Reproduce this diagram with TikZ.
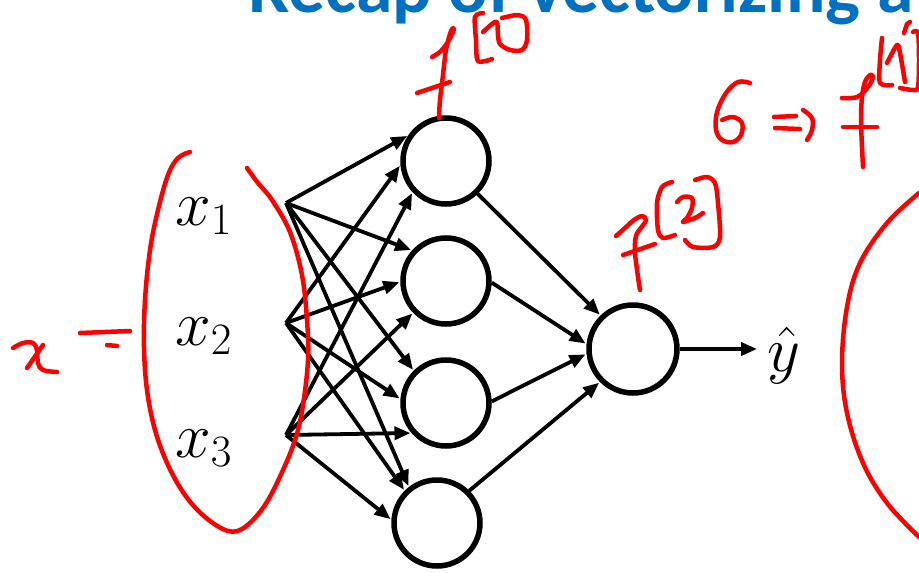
\documentclass[tikz,border=0pt]{standalone}
\usepackage{fix-cm}
\usepackage{fontspec}
\newfontfamily\titlefont{Carlito}
\usetikzlibrary{arrows.meta}
\definecolor{titleblue}{RGB}{0,112,192}
\definecolor{ink}{RGB}{255,0,0}
\tikzset{
  neuron/.style={circle, draw=black, line width=5.5pt, minimum size=86pt, inner sep=0pt},
  wire/.style={line width=3.8pt, -{Triangle[length=16pt,width=13pt]}, shorten >=1pt},
  hand/.style={draw=ink, line width=4.5pt, line cap=round, line join=round},
  varlabel/.style={inner sep=0pt, anchor=base west, font=\fontsize{64}{70}\selectfont}
}
\begin{document}
\begin{tikzpicture}[x=1pt, y=-1pt]
\useasboundingbox (0,0) rectangle (919,573);
\clip (0,0) rectangle (919,573);

% slide title (only its lower part is on the page)
\node[inner sep=0pt, anchor=base west, text=titleblue] (title) at (248,12)
  {\resizebox{665pt}{!}{\titlefont\bfseries Recap of vectorizing a}};

% input labels and their fan-out points
\node[varlabel] (lx1) at (175,225) {$x_1$};
\node[varlabel] (lx2) at (175,345) {$x_2$};
\node[varlabel] (lx3) at (175,457) {$x_3$};
\coordinate (in1) at (286,203);
\coordinate (in2) at (286,323);
\coordinate (in3) at (286,435);

% hidden layer and output unit
\node[neuron] (h1) at (446,161) {};
\node[neuron] (h2) at (446,281) {};
\node[neuron] (h3) at (446,403) {};
\node[neuron] (h4) at (437,523) {};
\node[neuron, minimum size=88pt] (out) at (633,349) {};
\node[varlabel] (yhat) at (767,371) {$\hat{y}$};
\coordinate (yend) at (757,349);

% input -> hidden
\draw[wire] (in1) -- (h1.146);
\draw[wire] (in2) -- (h1.185);
\draw[wire] (in3) -- (h1.223);
\draw[wire] (in1) -- (h2.138);
\draw[wire] (in2) -- (h2.181);
\draw[wire] (in3) -- (h2.224);
\draw[wire] (in1) -- (h3.135);
\draw[wire] (in2) -- (h3.175);
\draw[wire] (in3) -- (h3.221);
\draw[wire] (in1) -- (h4.128);
\draw[wire] (in2) -- (h4.135);
\draw[wire] (in3) -- (h4.176);

% hidden -> output
\draw[wire] (h1.-46) -- (out.134);
\draw[wire] (h2.-2) -- (out.174);
\draw[wire] (h3.2) -- (out.186);
\draw[wire] (h4.45) -- (out.225);
\draw[wire, shorten >=0pt] (out.east) -- (yend);

% handwritten notes: bracket round the inputs
\draw[hand] plot[smooth, tension=0.6] coordinates {
  (190,152) (178,158) (168,175) (158,210) (150,250) (145,300) (144,347)
  (147,390) (155,430) (168,465) (185,495) (205,517) (228,531) (245,527)
  (265,505) (283,470) (296,437) (303,405) (308,360) (307,320) (302,275)
  (290,232) (272,200) (258,183) (247,168)};

% x =
\draw[hand] plot[smooth, tension=0.6] coordinates {
  (13,348) (23,343) (33,343) (37,350) (38,363) (43,370) (57,372)};
\draw[hand] (43,345) -- (27,368);
\draw[hand] (80,333) -- (130,331);
\draw[hand] (107,345) -- (117,346);

% f^[1] above the first hidden unit
\draw[hand] plot[smooth, tension=0.6] coordinates {
  (432,57) (441,51) (449,40) (454,29) (451,31) (446,50) (443,75) (440,100) (439,118)};
\draw[hand] (417,93) -- (450,82);
\draw[hand] plot[smooth, tension=0.5] coordinates {
  (483,13) (475,17) (476,40) (478,61) (492,59)};
\draw[hand] plot[smooth, tension=0.5] coordinates {
  (483,32) (492,24) (497,22) (498,35) (500,44) (510,50) (522,50) (527,40)
  (526,20) (518,15) (502,18)};

% f^[2] above the output unit
\draw[hand] plot[smooth, tension=0.6] coordinates {
  (616,236) (625,228) (634,220) (642,216) (646,220) (641,228) (636,236) (635,252)
  (638,277) (640,290)};
\draw[hand] (623,255) -- (655,244);
\draw[hand] plot[smooth, tension=0.5] coordinates {
  (672,182) (662,187) (657,203) (658,230) (663,238) (675,235)};
\draw[hand] plot[smooth, tension=0.5] coordinates {
  (677,202) (683,197) (692,198) (692,208) (687,218) (683,222) (695,218) (703,213)};
\draw[hand] plot[smooth, tension=0.5] coordinates {
  (695,180) (707,177) (715,183) (718,203) (720,237) (713,247) (693,247) (685,240)};

% 6 => f^[1]
\draw[hand] plot[smooth, tension=0.6] coordinates {
  (750,83) (738,82) (726,93) (717,112) (716,130) (722,140) (733,142) (741,135)
  (742,123) (733,117) (722,120)};
\draw[hand] (774,117) -- (796,116);
\draw[hand] (775,128) -- (800,129);
\draw[hand] plot[smooth, tension=0.6] coordinates {
  (803,110) (812,118) (812,130) (807,140)};
\draw[hand] plot[smooth, tension=0.6] coordinates {
  (842,98) (857,97) (868,87) (873,77) (870,75) (865,82) (862,97) (861,120)
  (862,147) (863,167)};
\draw[hand] (843,127) -- (877,127);
\draw[hand] plot[smooth, tension=0.5] coordinates {
  (882,38) (880,60) (880,83) (892,85)};
\draw[hand] plot[smooth, tension=0.5] coordinates {
  (887,63) (897,45) (900,53) (905,82)};
\draw[hand] (904,33) -- (907,24) -- (910,22);
\draw[hand] plot[smooth, tension=0.5] coordinates {
  (900,88) (913,90) (918,87) (919,60) (918,33) (913,32)};

% large arc on the right
\draw[hand] plot[smooth, tension=0.6] coordinates {
  (919,193) (887,223) (860,263) (847,307) (842,363) (847,413) (863,463)
  (887,503) (919,537)};
\end{tikzpicture}
\end{document}
